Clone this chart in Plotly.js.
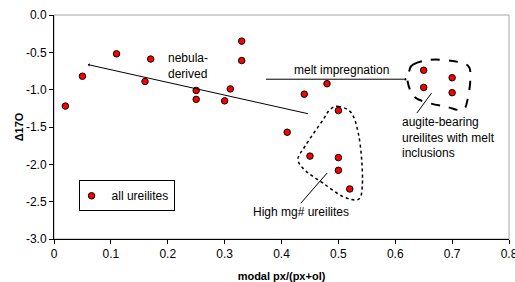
<!DOCTYPE html>
<html>
<head>
<meta charset="utf-8">
<script src="https://cdn.plot.ly/plotly-3.0.1.min.js"></script>
<style>html,body{margin:0;padding:0;background:#fff;}#chart{width:515px;height:282px;}</style>
</head>
<body>
<div id="chart"></div>
<script>
// Data
const seriesName = 'all ureilites';
const modalPx = [0.02, 0.05, 0.11, 0.16, 0.17, 0.25, 0.25, 0.30, 0.31, 0.33, 0.33, 0.41, 0.44, 0.45, 0.48, 0.50, 0.50, 0.50, 0.52, 0.65, 0.65, 0.70, 0.70];
const delta17O = [-1.22, -0.82, -0.52, -0.89, -0.59, -1.01, -1.13, -1.15, -0.99, -0.35, -0.61, -1.57, -1.06, -1.89, -0.92, -1.28, -1.91, -2.08, -2.33, -0.74, -0.97, -0.84, -1.04];
const xTicks = [0, 0.1, 0.2, 0.3, 0.4, 0.5, 0.6, 0.7, 0.8];
const xTickText = ['0', '0.1', '0.2', '0.3', '0.4', '0.5', '0.6', '0.7', '0.8'];
const yTicks = [0, -0.5, -1.0, -1.5, -2.0, -2.5, -3.0];
const yTickText = ['0.0', '-0.5', '-1.0', '-1.5', '-2.0', '-2.5', '-3.0'];

const FONT = '"Liberation Sans", Arial, sans-serif';

// closed smooth outline (Catmull-Rom -> Bezier) in data coordinates
function smoothPath(pts) {
  const n = pts.length;
  let d = 'M' + pts[0][0] + ',' + pts[0][1];
  for (let i = 0; i < n; i++) {
    const p0 = pts[(i - 1 + n) % n], p1 = pts[i], p2 = pts[(i + 1) % n], p3 = pts[(i + 2) % n];
    const c1 = [p1[0] + (p2[0] - p0[0]) / 6, p1[1] + (p2[1] - p0[1]) / 6];
    const c2 = [p2[0] - (p3[0] - p1[0]) / 6, p2[1] - (p3[1] - p1[1]) / 6];
    d += ' C' + c1[0] + ',' + c1[1] + ' ' + c2[0] + ',' + c2[1] + ' ' + p2[0] + ',' + p2[1];
  }
  return d + ' Z';
}

const augiteOutline = [
  [0.632, -0.66], [0.662, -0.60], [0.700, -0.615], [0.728, -0.68], [0.732, -0.85],
  [0.728, -1.10], [0.719, -1.27], [0.690, -1.23], [0.655, -1.17], [0.633, -1.09],
  [0.622, -0.90], [0.625, -0.74]
];
const highMgOutline = [
  [0.500, -1.224], [0.523, -1.313], [0.535, -1.581], [0.541, -1.940], [0.542, -2.298],
  [0.535, -2.470], [0.508, -2.432], [0.473, -2.252], [0.444, -2.097], [0.429, -1.940],
  [0.441, -1.761], [0.473, -1.403], [0.485, -1.268]
];

const trace = {
  type: 'scatter', mode: 'markers', name: seriesName,
  x: modalPx, y: delta17O,
  marker: { color: '#FF0000', size: 6.5, line: { color: '#000000', width: 1 } },
  showlegend: true
};

const textFont = { family: FONT, size: 12, color: '#000000' };

const layout = {
  width: 515, height: 282,
  margin: { l: 54, r: 6, t: 15, b: 43, pad: 0 },
  paper_bgcolor: '#ffffff', plot_bgcolor: '#ffffff',
  font: { family: FONT, size: 12, color: '#000000' },
  showlegend: true,
  legend: {
    x: 0.054, y: 0.262, xanchor: 'left', yanchor: 'top',
    bordercolor: '#000000', borderwidth: 1, bgcolor: '#ffffff',
    font: { family: FONT, size: 12, color: '#000000' }, itemwidth: 30, indentation: -8
  },
  xaxis: {
    range: [0, 0.8], tickvals: xTicks, ticktext: xTickText,
    showgrid: false, zeroline: false, showline: true, linecolor: '#000000', linewidth: 1,
    ticks: 'outside', ticklen: 4, tickcolor: '#000000', ticklabeloverflow: 'allow',
    tickfont: { family: FONT, size: 12, color: '#000000' },
    title: { text: '<b>modal px/(px+ol)</b>', font: { family: FONT, size: 11, color: '#000000' }, standoff: 11 },
    automargin: false
  },
  yaxis: {
    range: [-3, 0], tickvals: yTicks, ticktext: yTickText,
    showgrid: false, zeroline: false, showline: true, linecolor: '#000000', linewidth: 1,
    ticks: 'outside', ticklen: 4, tickcolor: '#000000',
    tickfont: { family: FONT, size: 12, color: '#000000' },
    title: { text: '<b>Δ17O</b>', font: { family: FONT, size: 11, color: '#000000' }, standoff: 0 },
    automargin: false
  },
  shapes: [
    { type: 'rect', xref: 'paper', yref: 'paper', x0: 0, x1: 1, y0: 0, y1: 1,
      line: { color: '#a6a6a6', width: 1 }, layer: 'below' },
    { type: 'path', xref: 'x', yref: 'y', path: smoothPath(augiteOutline),
      line: { color: '#000000', width: 2, dash: 'dash' } },
    { type: 'path', xref: 'x', yref: 'y', path: smoothPath(highMgOutline),
      line: { color: '#000000', width: 1.5, dash: 'dot' } },
    { type: 'line', xref: 'x', yref: 'y', x0: 0.664, y0: -1.044, x1: 0.638, y1: -1.313,
      line: { color: '#000000', width: 1 } },
    { type: 'line', xref: 'x', yref: 'y', x0: 0.480, y0: -2.118, x1: 0.434, y1: -2.521,
      line: { color: '#000000', width: 1 } }
  ],
  annotations: [
    { xref: 'x', yref: 'y', x: 0.0595, y: -0.664, ax: 0.449, ay: -1.326, axref: 'x', ayref: 'y',
      text: '', showarrow: true, arrowhead: 1, arrowsize: 0.6, arrowwidth: 1, arrowcolor: '#000000' },
    { xref: 'x', yref: 'y', x: 0.620, y: -0.86, ax: 0.370, ay: -0.86, axref: 'x', ayref: 'y',
      text: '', showarrow: true, arrowhead: 1, arrowsize: 0.6, arrowwidth: 1, arrowcolor: '#000000' },
    { xref: 'x', yref: 'y', x: 0.199, y: -0.678, xanchor: 'left', yanchor: 'middle', align: 'left',
      text: 'nebula-<br>derived', showarrow: false, font: textFont, borderpad: 0 },
    { xref: 'x', yref: 'y', x: 0.421, y: -0.732, xanchor: 'left', yanchor: 'middle', align: 'left',
      text: 'melt impregnation', showarrow: false, font: textFont, borderpad: 0 },
    { xref: 'x', yref: 'y', x: 0.610, y: -1.646, xanchor: 'left', yanchor: 'middle', align: 'left',
      text: 'augite-bearing<br>ureilites with melt<br>inclusions', showarrow: false, font: textFont, borderpad: 0 },
    { xref: 'x', yref: 'y', x: 0.349, y: -2.642, xanchor: 'left', yanchor: 'middle', align: 'left',
      text: 'High mg# ureilites', showarrow: false, font: textFont, borderpad: 0 }
  ]
};

Plotly.newPlot('chart', [trace], layout, { staticPlot: true, displayModeBar: false });
</script>
</body>
</html>
